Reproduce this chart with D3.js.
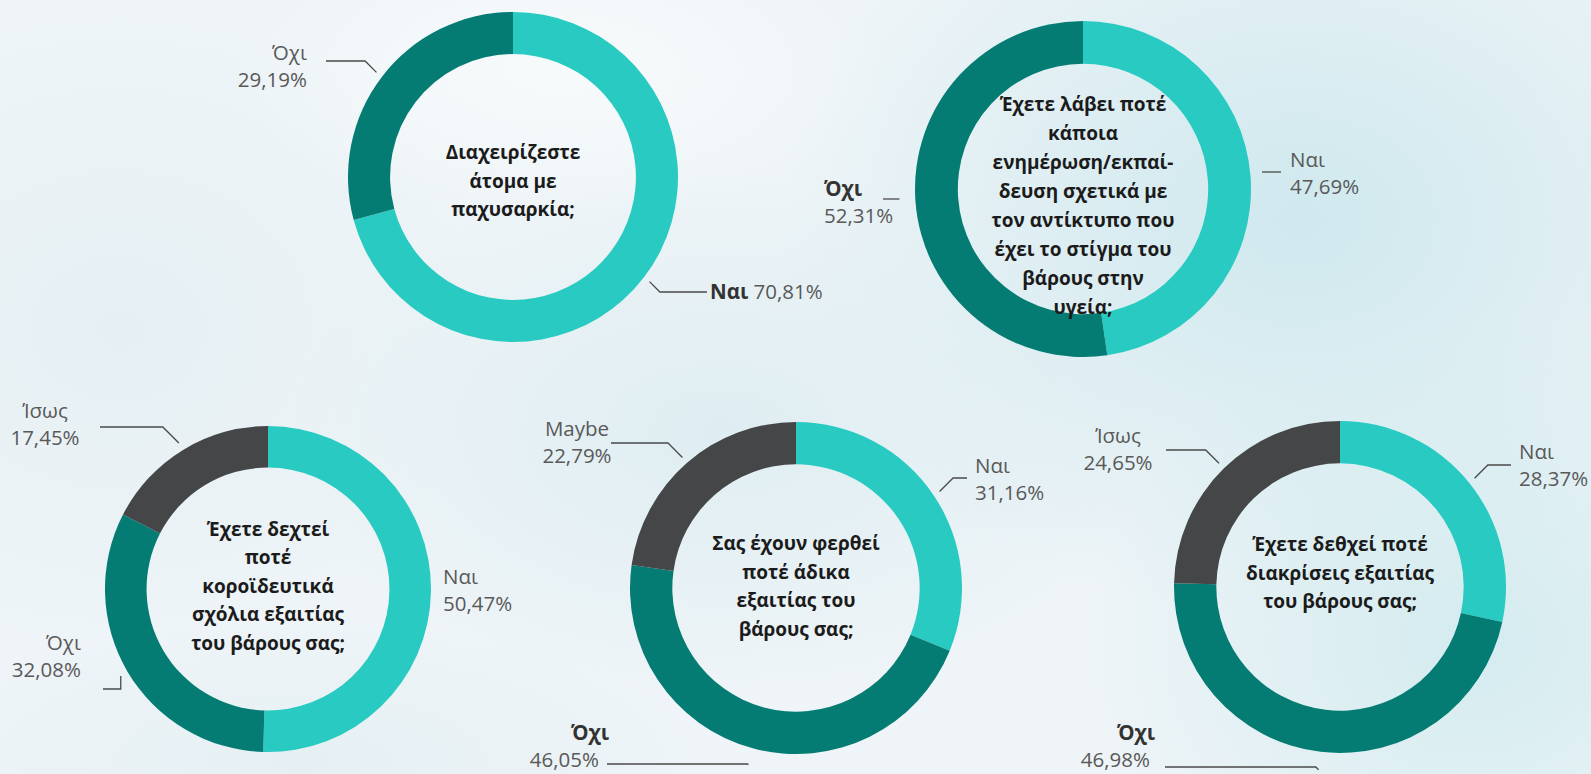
<!DOCTYPE html>
<html>
<head>
  <meta charset="utf-8">
  <script src="https://d3js.org/d3.v7.min.js"></script>
  <style>
    body { margin: 0; background: #eef4f7; }
    svg { display: block; }
    .title { font-family: "Open Sans", "Noto Sans", sans-serif; font-weight: 700; fill: #1b1b1b; }
    .lbl { font-family: "Open Sans", "Noto Sans", sans-serif; fill: #595959; }
    .lbl .b { font-weight: 700; fill: #333; }
    .lead { fill: none; stroke: #4a4a4a; stroke-width: 1.3px; }
  </style>
</head>
<body>

<script>
  var width = 1591,
      height = 774;

  // data, one entry per donut
  var categories = [
    ["Ναι", "Όχι"],
    ["Ναι", "Όχι"],
    ["Ναι", "Όχι", "Ίσως"],
    ["Ναι", "Όχι", "Maybe"],
    ["Ναι", "Όχι", "Ίσως"]
  ];
  var values = [
    [70.81, 29.19],
    [47.69, 52.31],
    [50.47, 32.08, 17.45],
    [31.16, 46.05, 22.79],
    [28.37, 46.98, 24.65]
  ];
  var questions = [
    ["Διαχειρίζεστε", "άτομα με", "παχυσαρκία;"],
    ["Έχετε λάβει ποτέ", "κάποια", "ενημέρωση/εκπαί-", "δευση σχετικά με",
     "τον αντίκτυπο που", "έχει το στίγμα του", "βάρους στην", "υγεία;"],
    ["Έχετε δεχτεί", "ποτέ", "κοροϊδευτικά", "σχόλια εξαιτίας", "του βάρους σας;"],
    ["Σας έχουν φερθεί", "ποτέ άδικα", "εξαιτίας του", "βάρους σας;"],
    ["Έχετε δεθχεί ποτέ", "διακρίσεις εξαιτίας", "του βάρους σας;"]
  ];

  // layout for each donut: centre, radius, title shift, label placement
  var layout = [
    { cx: 513, cy: 177, r: 165, ty: 4, tl: 28.5, labels: [
      { x: 710, y: 292, anchor: "start", inline: true, bold: true, lead: { gap: 7, y: 292, x2: 707 } },
      { x: 307, y: 53, anchor: "end", lead: { gap: 7, y: 61, x2: 326 } }
    ]},
    { cx: 1083, cy: 189, r: 168, ty: 17, tl: 29, labels: [
      { x: 1290, y: 160, anchor: "start", lead: { gap: 11.5, y: 172, x2: 1281, flat: true } },
      { x: 824, y: 189, anchor: "start", bold: true, lead: { gap: 16, y: 199, x2: 883, flat: true } }
    ]},
    { cx: 268, cy: 589, r: 163, ty: -3, tl: 28.5, labels: [
      { x: 443, y: 577, anchor: "start" },
      { x: 81, y: 643, anchor: "end", lead: { gap: 8, y: 689, x2: 103, vertical: true } },
      { x: 45, y: 411, anchor: "middle", lead: { gap: 8, y: 427, x2: 100 } }
    ]},
    { cx: 796, cy: 588, r: 166, ty: -2, tl: 28.5, labels: [
      { x: 975, y: 466, anchor: "start", lead: { gap: 7, y: 478, x2: 967 } },
      { x: 609, y: 733, anchor: "end", bold: true, dx2: -10, lead: { gap: 17, y: 764, x2: 607 } },
      { x: 577, y: 429, anchor: "middle", lead: { gap: 7, y: 443, x2: 611 } }
    ]},
    { cx: 1340, cy: 587, r: 166, ty: -14, tl: 28.5, labels: [
      { x: 1519, y: 452, anchor: "start", lead: { gap: 7, y: 465, x2: 1511 } },
      { x: 1155, y: 733, anchor: "end", bold: true, dx2: -5, lead: { gap: 18, y: 767, x2: 1165 } },
      { x: 1118, y: 436, anchor: "middle", lead: { gap: 7, y: 450, x2: 1166 } }
    ]}
  ];

  var colors = ["#28cac1", "#047c73", "#444648"];
  var labelSize = 20.5, labelLine = 26.5;
  var titleSize = 19;

  var gr = d3.formatLocale({ decimal: ",", thousands: ".", grouping: [3], currency: ["", "€"] });
  var pct = function(v) { return gr.format(".2f")(v) + "%"; };

  var svg = d3.select("body")
      .append("svg")
      .attr("width", width)
      .attr("height", height);

  // watercolour-like backdrop
  var defs = svg.append("defs");
  var blobs = [
    { id: "bg1", x: 1300, y: 220, rx: 520, ry: 400, c: "#cbe7ed", o: 0.9 },
    { id: "bg2", x: 1470, y: 640, rx: 380, ry: 320, c: "#cfeaee", o: 0.85 },
    { id: "bg3", x: 720, y: 430, rx: 440, ry: 260, c: "#d9ebf0", o: 0.75 },
    { id: "bg4", x: 120, y: 330, rx: 380, ry: 320, c: "#e3eef2", o: 0.75 },
    { id: "bg5", x: 560, y: 70, rx: 330, ry: 150, c: "#f8fbfc", o: 0.95 },
    { id: "bg6", x: 300, y: 760, rx: 400, ry: 140, c: "#e2eef2", o: 0.7 }
  ];
  blobs.forEach(function(b) {
    var g = defs.append("radialGradient").attr("id", b.id);
    g.append("stop").attr("offset", "0%").attr("stop-color", b.c).attr("stop-opacity", b.o);
    g.append("stop").attr("offset", "100%").attr("stop-color", b.c).attr("stop-opacity", 0);
  });
  svg.append("rect").attr("width", width).attr("height", height).attr("fill", "#eef4f7");
  svg.selectAll("ellipse.bg")
      .data(blobs)
      .enter().append("ellipse")
      .attr("class", "bg")
      .attr("cx", function(d) { return d.x; })
      .attr("cy", function(d) { return d.y; })
      .attr("rx", function(d) { return d.rx; })
      .attr("ry", function(d) { return d.ry; })
      .attr("fill", function(d) { return "url(#" + d.id + ")"; });

  var pie = d3.pie().sort(null).value(function(d) { return d.value; });

  layout.forEach(function(L, i) {
    var rows = categories[i].map(function(c, j) {
      return { name: c, value: values[i][j], idx: j };
    });
    var arcs = pie(rows);
    var arc = d3.arc().outerRadius(L.r).innerRadius(L.r * 0.745);

    var g = svg.append("g").attr("transform", "translate(" + L.cx + "," + L.cy + ")");

    g.selectAll("path.slice")
        .data(arcs)
        .enter().append("path")
        .attr("class", "slice")
        .attr("d", arc)
        .attr("fill", function(d) { return colors[d.data.idx]; });

    // question in the hole
    var lines = questions[i];
    var t = g.append("text")
        .attr("class", "title")
        .attr("text-anchor", "middle")
        .attr("font-size", titleSize);
    t.selectAll("tspan")
        .data(lines)
        .enter().append("tspan")
        .attr("x", 0)
        .attr("y", function(d, k) {
          return L.ty + (k - (lines.length - 1) / 2) * L.tl + titleSize * 0.36;
        })
        .text(function(d) { return d; });

    // slice labels and leader lines
    arcs.forEach(function(a, j) {
      var lb = L.labels[j];
      if (!lb) return;
      var txt = svg.append("text")
          .attr("class", "lbl")
          .attr("font-size", labelSize)
          .attr("text-anchor", lb.anchor);
      if (lb.inline) {
        var ts = txt.append("tspan").attr("x", lb.x).attr("y", lb.y + labelSize * 0.36);
        ts.append("tspan").attr("class", lb.bold ? "b" : null).text(a.data.name);
        ts.append("tspan").text(" " + pct(a.data.value));
      } else {
        txt.append("tspan").attr("class", lb.bold ? "b" : null)
            .attr("x", lb.x).attr("y", lb.y + labelSize * 0.36)
            .text(a.data.name);
        txt.append("tspan")
            .attr("x", lb.x + (lb.dx2 || 0)).attr("y", lb.y + labelLine + labelSize * 0.36)
            .text(pct(a.data.value));
      }

      if (lb.lead) {
        var mid = (a.startAngle + a.endAngle) / 2;
        var rr = L.r + lb.lead.gap;
        var sx = L.cx + rr * Math.sin(mid),
            sy = L.cy - rr * Math.cos(mid);
        var pts;
        if (lb.lead.flat) {
          pts = [[sx, lb.lead.y], [lb.lead.x2, lb.lead.y]];
        } else {
          var dir = lb.lead.x2 < sx ? -1 : 1;
          var ex = lb.lead.vertical ? sx : sx + dir * Math.abs(lb.lead.y - sy);
          pts = [[sx, sy], [ex, lb.lead.y], [lb.lead.x2, lb.lead.y]];
        }
        svg.append("path")
            .attr("class", "lead")
            .attr("d", d3.line()(pts));
      }
    });
  });
</script>

</body>
</html>
